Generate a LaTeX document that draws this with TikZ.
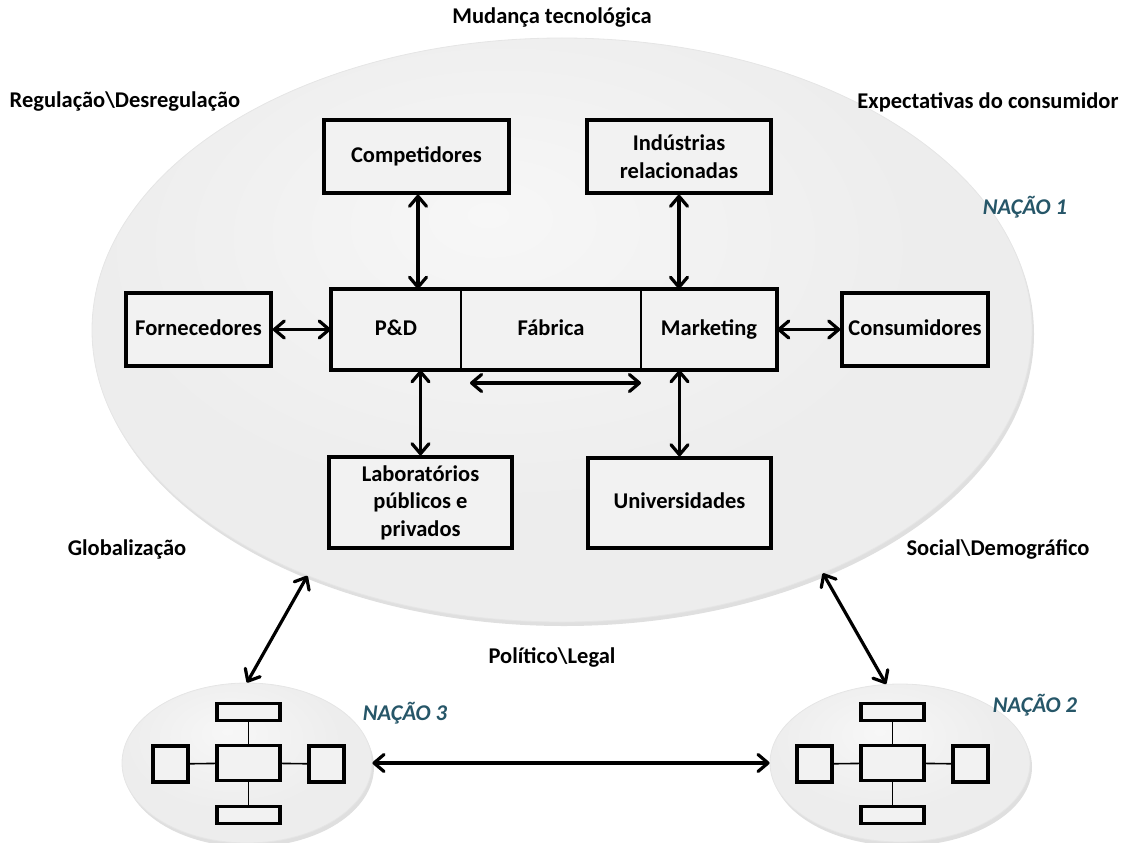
\documentclass[tikz,border=0pt]{standalone}
\usepackage{fontspec}
\setmainfont{Carlito}
\usetikzlibrary{arrows.meta,shapes.geometric,shadows}

\definecolor{nacao}{RGB}{38,86,104}
\definecolor{boxfill}{RGB}{242,242,242}
\definecolor{ballA}{RGB}{247,247,247}
\definecolor{ballB}{RGB}{237,237,237}
\definecolor{ballC}{RGB}{226,226,226}
\definecolor{ballD}{RGB}{198,198,198}

\pgfdeclareradialshading{nationshade}{\pgfpoint{-4bp}{10bp}}{%
  color(0bp)=(ballA); color(22bp)=(ballB); color(40bp)=(ballB);
  color(50bp)=(ballC); color(58bp)=(ballD); color(70bp)=(ballD)}

\tikzset{
  openbarb/.tip={Straight Barb[length=10pt,width=17pt,line width=3.2pt,round]},
  nation/.style={ellipse, inner sep=0pt, shading=nationshade, draw=gray!20, line width=0.8pt,
    drop shadow={opacity=0.25, shadow xshift=2pt, shadow yshift=-4pt}},
  actor/.style={draw, fill=boxfill, line width=3.4pt, align=center, inner sep=0pt,
    font=\bfseries\fontsize{22.5}{27.5}\selectfont,
    drop shadow={opacity=0.35, shadow xshift=2pt, shadow yshift=-2pt}},
  dept/.style={inner sep=0pt, font=\bfseries\fontsize{22.5}{27.5}\selectfont,
    text height=15pt, text depth=4pt},
  oneline/.style={text height=15pt, text depth=4pt},
  minibox/.style={draw, fill=boxfill, line width=3.2pt, inner sep=0pt,
    drop shadow={opacity=0.35, shadow xshift=1.5pt, shadow yshift=-1.5pt}},
  link/.style={line width=1.6pt},
  flow/.style={line width=3.2pt, {openbarb}-{openbarb}},
  force/.style={font=\bfseries\fontsize{22.5}{27}\selectfont},
  nlabel/.style={font=\bfseries\itshape\fontsize{22.5}{27}\selectfont, text=nacao}
}

\begin{document}
\begin{tikzpicture}[x=1pt,y=-1pt]
\useasboundingbox (0,0) rectangle (1127,843);

% nations
\node[nation, minimum width=940pt, minimum height=584pt] (n1) at (562,330) {};
\node[nation, minimum width=250pt, minimum height=160pt] (n3) at (247,763) {};
\node[nation, minimum width=260pt, minimum height=158pt] (n2) at (900,763) {};

% environment forces
\node[force] (tec) at (552,18) {Mudança tecnológica};
\node[force] (reg) at (125,102) {Regulação\textbackslash Desregulação};
\node[force] (exp) at (988,102) {Expectativas do consumidor};
\node[force] (glo) at (127,549) {Globalização};
\node[force] (soc) at (998,549) {Social\textbackslash Demográfico};
\node[force] (pol) at (552,657) {Político\textbackslash Legal};

\node[nlabel] (l1) at (1025,207) {NAÇÃO 1};
\node[nlabel] (l3) at (405,713) {NAÇÃO 3};
\node[nlabel] (l2) at (1035,705) {NAÇÃO 2};

% actors of nation 1
\node[actor, oneline, minimum width=185pt, minimum height=73pt] (comp) at (416.5,156.5) {Competidores};
\node[actor, minimum width=184pt, minimum height=73pt] (ind) at (679,156.5) {Indústrias\\relacionadas};
\node[actor, oneline, minimum width=145pt, minimum height=73pt] (forn) at (198.5,329.5) {Fornecedores};
\node[actor, oneline, minimum width=146pt, minimum height=73pt] (cons) at (915,329.5) {Consumidores};
\node[actor, minimum width=183pt, minimum height=91pt] (lab) at (420.5,502.5) {Laboratórios\\públicos e\\privados};
\node[actor, oneline, minimum width=183pt, minimum height=90pt] (univ) at (679.5,503) {Universidades};

% firm: one frame split into three departments
\coordinate (firmNW) at (331,289);
\coordinate (firmSE) at (777,370);
\draw[fill=boxfill, line width=3.4pt, drop shadow={opacity=0.35, shadow xshift=2pt, shadow yshift=-2pt}]
  (firmNW) rectangle (firmSE);
\node[dept, minimum width=130pt, minimum height=81pt] (pd) at (396,329.5) {P\&D};
\node[dept, minimum width=180pt, minimum height=81pt] (fab) at (551,329.5) {Fábrica};
\node[dept, minimum width=136pt, minimum height=81pt] (mkt) at (709,329.5) {Marketing};
\draw[line width=2pt] (fab.north west) -- (fab.south west);
\draw[line width=2pt] (fab.north east) -- (fab.south east);

% links inside nation 1
\draw[flow] (comp.south -| 418,0) -- (pd.north -| 418,0);
\draw[flow] (ind.south) -- (mkt.north -| ind.south);
\draw[flow] (forn.east) -- (pd.west);
\draw[flow] (mkt.east) -- (cons.west);
\draw[flow] (pd.south -| lab.north) -- (lab.north);
\draw[flow] (mkt.south -| univ.north) -- (univ.north);
\coordinate (hl) at (470,383);
\coordinate (hr) at (641,383);
\draw[flow] (hl) -- (hr);

% links between nations
\draw[flow] (n1.224) -- (n3.north);
\draw[flow] (n1.317) -- (n2.100);
\draw[flow] (n3.east) -- (n2.west);

% miniature structures
\foreach \n/\cx in {n3/248.5, n2/892.5} {
  \node[minibox, minimum width=63pt, minimum height=17pt] (\n top) at (\cx,712) {};
  \node[minibox, minimum width=63pt, minimum height=35pt] (\n mid) at (\cx,763) {};
  \node[minibox, minimum width=63pt, minimum height=17pt] (\n bot) at (\cx,815) {};
  \node[minibox, minimum width=35pt, minimum height=36pt] (\n left) at (\cx-78,764) {};
  \node[minibox, minimum width=35pt, minimum height=36pt] (\n right) at (\cx+78,764) {};
  \draw[link] (\n top) -- (\n mid);
  \draw[link] (\n mid) -- (\n bot);
  \draw[link] (\n left) -- (\n mid);
  \draw[link] (\n mid) -- (\n right);
}
\end{tikzpicture}
\end{document}
